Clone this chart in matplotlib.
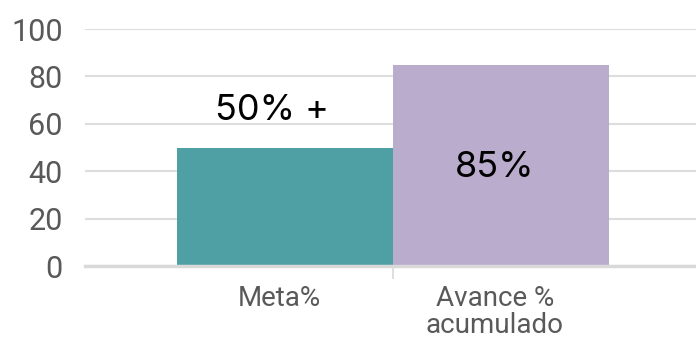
import matplotlib
matplotlib.use("Agg")
import matplotlib.pyplot as plt
from matplotlib.transforms import ScaledTranslation

# datos
categorias = ["Meta%", "Avance %\nacumulado"]
valores = [50, 85]
etiquetas = ["50% +", "85%"]
colores = ["#4fa0a4", "#baaccd"]
yticks = [0, 20, 40, 60, 80, 100]

plt.rcParams['font.family'] = ['Roboto', 'DejaVu Sans']

fig = plt.figure(figsize=(6.96, 3.42), dpi=100)
ax = fig.add_axes([0.122, 0.2208, 0.878, 0.6944])

x = list(range(len(categorias)))
ax.bar(x, valores, width=1.0, color=colores, zorder=3)

ax.set_xlim(-0.926, 1.903)
ax.set_ylim(0, 100)
ax.set_yticks(yticks)
ax.set_yticklabels([str(v) for v in yticks], fontsize=22, color="#595959")
ax.tick_params(axis="y", length=0, pad=16)

ax.set_xticks(x)
ax.set_xticklabels(categorias, fontsize=20, color="#595959", linespacing=1.0)
ax.tick_params(axis="x", which="major", length=0, pad=13)
desplaza = ScaledTranslation(-6 / 100, 0, fig.dpi_scale_trans)
for lab in ax.get_xticklabels():
    lab.set_transform(lab.get_transform() + desplaza)
ax.set_xticks([0.5], minor=True)
ax.tick_params(axis="x", which="minor", length=9, width=1.2, color="#d9d9d9")

ax.grid(axis="y", color="#dddddd", linewidth=1.5, zorder=0)
for s in ["top", "right", "left"]:
    ax.spines[s].set_visible(False)
ax.spines["bottom"].set_color("#d9d9d9")
ax.spines["bottom"].set_linewidth(2.5)
ax.spines["bottom"].set_zorder(4)

# etiquetas de datos
ax.text(x[0] - 0.06, valores[0] + 11.5, etiquetas[0], ha="center", va="baseline",
        fontsize=26, family="Inter", color="black", zorder=5)
ax.text(x[1] - 0.03, valores[1] - 47.2, etiquetas[1], ha="center", va="baseline",
        fontsize=26, family="Inter", color="black", zorder=5)

fig.savefig("out.png", dpi=100)
